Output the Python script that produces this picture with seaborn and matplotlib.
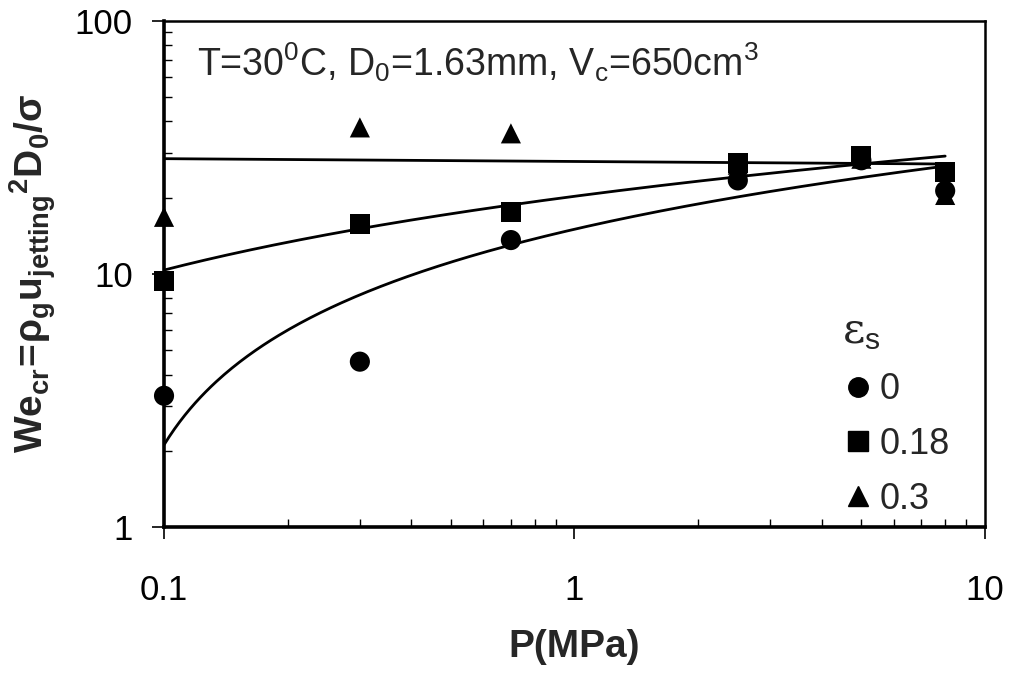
import numpy as np
import pandas as pd
import matplotlib
matplotlib.use("Agg")
import matplotlib.pyplot as plt
from matplotlib.lines import Line2D
from matplotlib.ticker import LogLocator, NullFormatter
import seaborn as sns

# ---- data ----
P = [0.1, 0.3, 0.7, 2.5, 5.0, 8.0]
we_eps_0 = [3.3, 4.5, 13.6, 23.4, 28.1, 21.3]
we_eps_018 = [9.4, 15.7, 17.6, 27.5, 29.3, 25.2]
we_eps_03 = [16.8, 37.9, 35.9, 27.0, 28.5, 20.5]
eps_labels = ["0", "0.18", "0.3"]
x_tick_vals = [0.1, 1, 10]
x_tick_labels = ["0.1", "1", "10"]
y_tick_vals = [1, 10, 100]
y_tick_labels = ["1", "10", "100"]

series = {"0": we_eps_0, "0.18": we_eps_018, "0.3": we_eps_03}
marker_of = {"0": "o", "0.18": "s", "0.3": "^"}

sns.set_theme(style="ticks")
plt.rcParams["font.family"] = ["Liberation Sans", "DejaVu Sans"]
plt.rcParams["mathtext.fontset"] = "custom"
plt.rcParams["mathtext.rm"] = "Liberation Sans"
plt.rcParams["mathtext.it"] = "Liberation Sans:italic"
plt.rcParams["mathtext.bf"] = "Liberation Sans:bold"
plt.rcParams["mathtext.sf"] = "DejaVu Serif"

fig = plt.figure(figsize=(10.1, 6.84), dpi=100)
ax = fig.add_axes([0.1624, 0.2295, 0.8128, 0.7402])
ax.set_xscale("log")
ax.set_yscale("log")

# trend lines: logarithmic fit y = a ln(x) + b, as in the source
grid = np.geomspace(min(P), max(P), 300)
for lab in ["0.3", "0", "0.18"]:
    a, b = np.polyfit(np.log(P), series[lab], 1)
    sns.lineplot(x=grid, y=a * np.log(grid) + b, color="black", lw=2.0, ax=ax)

# markers: triangles first so they sit underneath
for lab in ["0.3", "0", "0.18"]:
    df = pd.DataFrame({"P": P, "We": series[lab]})
    sns.scatterplot(data=df, x="P", y="We", marker=marker_of[lab], s=210,
                    color="black", edgecolor="none", ax=ax, zorder=3, clip_on=False)

ax.set_xlim(0.1, 10)
ax.set_ylim(1, 100)
ax.set_xticks(x_tick_vals, labels=x_tick_labels)
ax.set_yticks(y_tick_vals, labels=y_tick_labels)
ax.xaxis.set_minor_locator(LogLocator(base=10, subs=np.arange(2, 10)))
ax.yaxis.set_minor_locator(LogLocator(base=10, subs=np.arange(2, 10)))
ax.xaxis.set_minor_formatter(NullFormatter())
ax.yaxis.set_minor_formatter(NullFormatter())
ax.tick_params(which="major", direction="out", length=8.5, width=1.2, labelsize=25, colors="black")
ax.tick_params(axis="x", which="major", pad=25)
ax.tick_params(axis="y", which="major", pad=14)
ax.tick_params(which="minor", direction="in", length=6, width=1.0, colors="black")

for side in ["left", "bottom"]:
    ax.spines[side].set_linewidth(2.6)
for side in ["top", "right"]:
    ax.spines[side].set_linewidth(1.8)
    ax.spines[side].set_visible(True)
for s in ax.spines.values():
    s.set_color("black")

ax.set_xlabel("P(MPa)", fontsize=28, fontweight="bold", labelpad=16)
ax.set_ylabel(r"$\mathbf{We_{cr}\!=\!\rho_g u_{jetting}{}^{2}D_0/\sigma}$", fontsize=28, labelpad=12)

ax.text(0.04, 0.918, r"T=30$^{0}$C, D$_{0}$=1.63mm, V$_{\mathrm{c}}$=650cm$^{3}$",
        transform=ax.transAxes, fontsize=27, ha="left", va="center")

handles = [Line2D([], [], marker=marker_of[l], color="black", linestyle="none", markersize=14)
           for l in eps_labels]
leg = ax.legend(handles, eps_labels, title=r"$\mathsf{ε}_{\mathrm{s}}$", loc="lower left",
                bbox_to_anchor=(0.826, 0.02), frameon=False, fontsize=26, title_fontsize=31,
                handletextpad=0.15, labelspacing=0.55, borderaxespad=0.0, borderpad=0.0,
                alignment="left", handlelength=0.9)

fig.savefig("out.png", dpi=100)
